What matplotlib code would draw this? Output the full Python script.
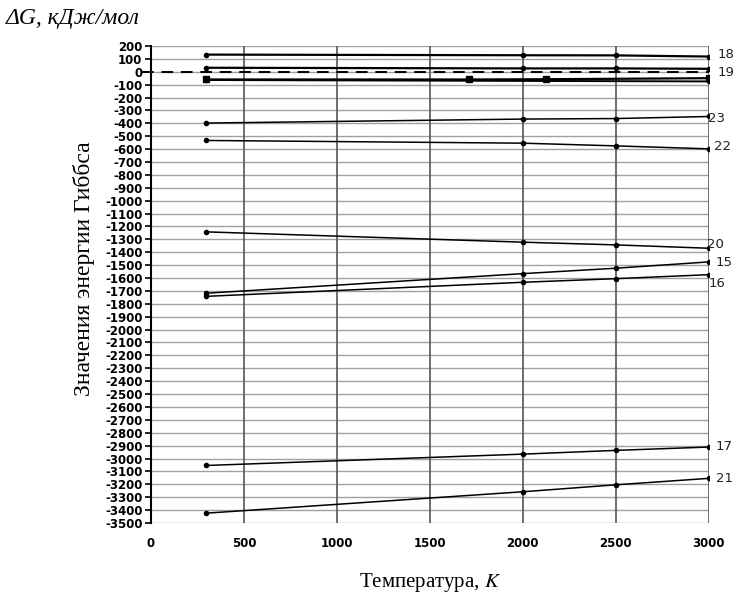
import matplotlib
matplotlib.use("Agg")
import matplotlib.pyplot as plt
import numpy as np

# -------------
# Data (T, K -> dG, kJ/mol)
# -------------
t_main = [298, 2000, 2500, 3000]
dg_18 = [133, 128, 127, 118]
dg_19 = [31, 26, 26, 23]
dg_23 = [-398, -367, -363, -347]
dg_22 = [-533, -554, -575, -598]
dg_20 = [-1242, -1322, -1343, -1369]
dg_15 = [-1718, -1566, -1524, -1475]
dg_16 = [-1742, -1633, -1605, -1574]
dg_17 = [-3054, -2966, -2937, -2911]
dg_21 = [-3424, -3258, -3204, -3154]

# two unlabelled curves near -60
t_extra = [298, 1710, 2127, 3000]
dg_extra = [-60, -60, -58, -50]
t_extra2 = [298, 3000]
dg_extra2 = [-64, -75]

labels = ["18", "19", "23", "22", "20", "15", "16", "17", "21"]
series = [dg_18, dg_19, dg_23, dg_22, dg_20, dg_15, dg_16, dg_17, dg_21]
# label offsets (points) from the last point of each curve
offsets = [(6.5, 1.5), (6.5, -3), (-0.5, -1.5), (3.5, 1.5), (-1.5, 3), (5, -0.5), (0, -6.5), (5, 0.5), (5, 0)]

plt.rcParams["axes.unicode_minus"] = False
plt.rcParams["mathtext.fontset"] = "stix"

fig = plt.figure(figsize=(7.36, 5.97), dpi=100)
ax = fig.add_axes([0.205, 0.124, 0.758, 0.799])

# grid
for v in np.arange(-3500, 201, 100):
    ax.axhline(v, color="#a0a0a0", lw=1.0, zorder=0)
for t in range(500, 3001, 500):
    ax.axvline(t, color="#555555", lw=1.2, zorder=1)

ax.plot([-50, 3000], [0, 0], color="black", lw=1.4, ls=(0, (6, 4)), clip_on=False, zorder=4)

for i, (lab, y) in enumerate(zip(labels, series)):
    lw = 1.6 if i < 2 else 1.1
    ax.plot(t_main, y, color="black", lw=lw, marker="o", ms=3, zorder=3)
    ax.annotate(lab, (t_main[-1], y[-1]), xytext=offsets[i], textcoords="offset points",
                ha="left", va="center", fontsize=9.5, color="#222222", annotation_clip=False)

ax.plot(t_extra, dg_extra, color="black", lw=1.6, marker="s", ms=4.5, zorder=3)
ax.plot(t_extra2, dg_extra2, color="black", lw=1.4, marker="o", ms=3, zorder=3)

ax.set_xlim(0, 3000)
ax.set_ylim(-3500, 200)
ax.set_yticks(np.arange(-3500, 201, 100))
ax.set_xticks(np.arange(0, 3001, 500))
ax.tick_params(axis="y", direction="out", length=4, width=1.2, labelsize=8.5, pad=2)
ax.tick_params(axis="x", length=0, labelsize=8.5, pad=10)
for lbl in ax.get_xticklabels() + ax.get_yticklabels():
    lbl.set_fontweight("bold")

for s in ["top", "right", "bottom"]:
    ax.spines[s].set_visible(False)
ax.spines["left"].set_linewidth(1.5)

ax.set_ylabel("Значения энергии Гиббса", family="Liberation Serif", fontsize=17)
ax.yaxis.set_label_coords(-0.1, 0.534)
ax.set_xlabel(r"Температура, $\mathit{K}$", family="Liberation Serif", fontsize=15, labelpad=15)
fig.text(0.008, 0.969, "ΔG, кДж/мол", family="Liberation Serif", style="italic",
         fontsize=17, ha="left", va="center")

fig.savefig("out.png", dpi=100)
